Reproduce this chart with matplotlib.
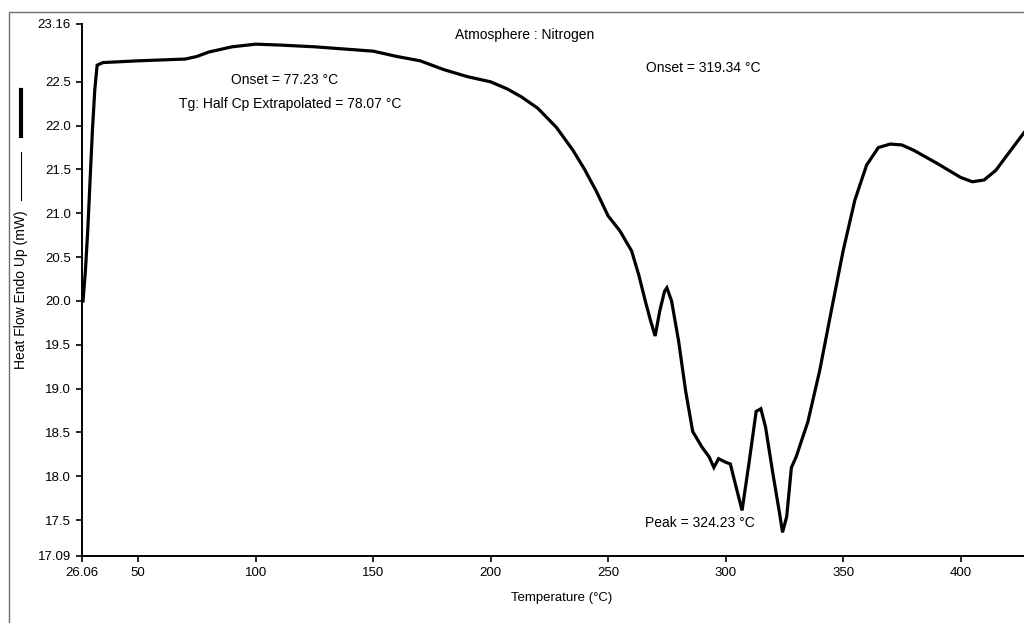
import matplotlib
matplotlib.use("Agg")
import matplotlib.pyplot as plt
from matplotlib.lines import Line2D
from matplotlib.patches import Rectangle

plt.rcParams['font.family'] = ['Liberation Sans', 'DejaVu Sans']

# DSC trace: temperature (°C) and heat flow (mW)
temperature = [26.5, 27.5, 28.5, 29.5, 30.5, 31.5, 32.5, 35, 50, 70, 75, 80, 90,
               100, 110, 125, 140, 150, 160, 170, 180, 190, 200, 207, 213, 220,
               228, 235, 240, 245, 250, 255, 260, 263, 266, 268, 270, 272, 274,
               275, 277, 280, 283, 286, 290, 293, 295, 297, 300, 302, 305, 307,
               310, 313, 315, 317, 320, 323, 324.23, 326, 328, 330, 335, 340,
               345, 350, 355, 360, 365, 370, 375, 380, 390, 400, 405, 410, 415,
               420, 427]
heat_flow = [20.0, 20.34, 20.8, 21.38, 21.95, 22.41, 22.69, 22.72, 22.74, 22.76,
             22.79, 22.84, 22.90, 22.93, 22.92, 22.90, 22.87, 22.85, 22.79, 22.74,
             22.64, 22.56, 22.50, 22.42, 22.33, 22.20, 21.98, 21.72, 21.50, 21.25,
             20.97, 20.80, 20.57, 20.30, 19.98, 19.78, 19.60, 19.89, 20.11, 20.15,
             20.00, 19.54, 18.97, 18.51, 18.33, 18.22, 18.10, 18.20, 18.16, 18.14,
             17.82, 17.61, 18.16, 18.74, 18.77, 18.56, 18.05, 17.57, 17.36, 17.54,
             18.10, 18.22, 18.62, 19.20, 19.89, 20.57, 21.15, 21.55, 21.75, 21.79,
             21.78, 21.72, 21.57, 21.41, 21.36, 21.38, 21.49, 21.67, 21.92]

x_ticks = [26.06, 50, 100, 150, 200, 250, 300, 350, 400]
x_labels = ["26.06", "50", "100", "150", "200", "250", "300", "350", "400"]
y_ticks = [17.09, 17.5, 18.0, 18.5, 19.0, 19.5, 20.0, 20.5, 21.0, 21.5, 22.0, 22.5, 23.16]
y_labels = ["17.09", "17.5", "18.0", "18.5", "19.0", "19.5", "20.0", "20.5", "21.0",
            "21.5", "22.0", "22.5", "23.16"]

W, H = 1024, 623
fig = plt.figure(figsize=(W / 100, H / 100), dpi=100)
ax = fig.add_axes([82 / W, (H - 556) / H, 1 - 82 / W, (556 - 24) / H])

ax.plot(temperature, heat_flow, color="black", lw=2.3, solid_joinstyle="miter")

ax.set_xlim(26.06, 427)
ax.set_ylim(17.09, 23.16)
ax.set_xticks(x_ticks)
ax.set_xticklabels(x_labels)
ax.set_yticks(y_ticks)
ax.set_yticklabels(y_labels)
ax.tick_params(axis="both", direction="out", length=4, width=1.2, labelsize=9.5,
               colors="black", pad=4)
for side in ("top", "right"):
    ax.spines[side].set_visible(False)
for side in ("left", "bottom"):
    ax.spines[side].set_linewidth(1.4)


def px_text(x, y, s, size=10, **kw):
    fig.text(x / W, 1 - y / H, s, ha="center", va="center", fontsize=size, **kw)


# annotations
px_text(525, 35, "Atmosphere : Nitrogen")
px_text(285, 80, "Onset = 77.23 °C")
px_text(290, 104, "Tg: Half Cp Extrapolated = 78.07 °C")
px_text(703, 68, "Onset = 319.34 °C")
px_text(700, 523, "Peak = 324.23 °C")

# axis titles
px_text(562, 598, "Temperature (°C)", size=9.5)
px_text(21, 290, "Heat Flow Endo Up (mW)", size=10, rotation=90)

# line-style key next to the y-axis title
fig.add_artist(Line2D([21 / W, 21 / W], [1 - 200 / H, 1 - 152 / H],
                      color="black", lw=0.8, transform=fig.transFigure))
fig.add_artist(Line2D([21 / W, 21 / W], [1 - 136 / H, 1 - 90 / H],
                      color="black", lw=3.0, transform=fig.transFigure))

# outer frame
fig.add_artist(Rectangle((9 / W, -0.05), 1.1, 1 - 12 / H + 0.05, fill=False,
                         edgecolor="#6e6e6e", lw=1.0, transform=fig.transFigure))

fig.savefig("out.png", dpi=100)
